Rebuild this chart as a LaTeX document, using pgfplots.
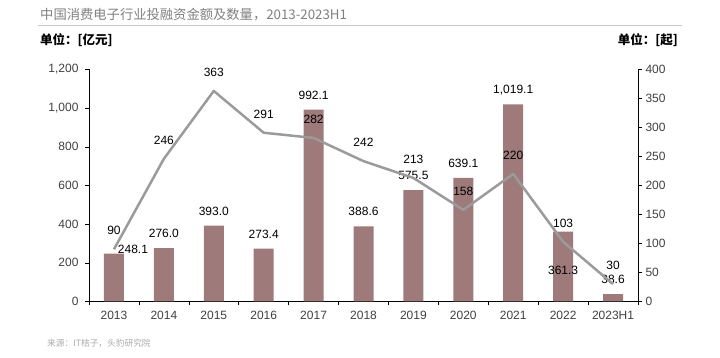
\documentclass[border=0pt]{standalone}
\usepackage{pgfplots}
\pgfplotsset{compat=1.18}
\usepackage{pgfplotstable}
\usepackage{fontspec}
\setmainfont{Liberation Sans}
\newfontfamily\cjk{Noto Sans CJK SC}
\definecolor{barc}{RGB}{158,122,122}
\definecolor{linec}{RGB}{155,155,155}
\definecolor{tickc}{RGB}{64,64,64}
\definecolor{titlec}{RGB}{128,128,128}
\definecolor{srcc}{RGB}{170,170,170}
\definecolor{rulec}{RGB}{200,200,200}
\pgfkeys{/pgf/number format/assume math mode=true}

\pgfplotstableread{
x y dx dy
0 248.1 19 4.5
1 276.0 0 14.5
2 393.0 0 14.5
3 273.4 0 14.5
4 992.1 0 14.5
5 388.6 0 14.5
6 575.5 0 14.5
7 639.1 0 14.5
8 1019.1 0 14.5
9 361.3 0 -38.4
10 38.6 0 14.5
}\bardata

\pgfplotstableread{
x y
0 90
1 246
2 363
3 291
4 282
5 242
6 213
7 158
8 220
9 103
10 30
}\linedata

\begin{document}
\begin{tikzpicture}[x=1pt,y=1pt]
\path[use as bounding box] (0,0) rectangle (720,358);
% title
\node[anchor=west, inner sep=0, text=titlec, font=\cjk\fontsize{13.3}{15}\selectfont] at (40,343) {中国消费电子行业投融资金额及数量，2013-2023H1};
\draw[rulec, line width=0.8pt] (38,333) -- (682,333);
\node[anchor=west, inner sep=0, font=\cjk\bfseries\fontsize{12.5}{14}\selectfont] at (40,318) {单位：[亿元]};
\node[anchor=east, inner sep=0, font=\cjk\bfseries\fontsize{12.5}{14}\selectfont] at (678,318) {单位：[起]};
\node[anchor=west, inner sep=0, text=srcc, font=\cjk\fontsize{8.7}{10}\selectfont] at (47,15) {来源：IT桔子，头豹研究院};

\begin{axis}[
  at={(89pt,56.5pt)}, anchor=south west,
  scale only axis, width=549pt, height=232pt,
  xmin=-0.5, xmax=10.5, ymin=0, ymax=1200,
  axis x line*=bottom, axis y line*=left,
  axis line style={black, line width=0.6pt, -},
  xtick={0,...,10},
  xticklabels={2013,2014,2015,2016,2017,2018,2019,2020,2021,2022,2023H1},
  minor xtick={-0.5,0.5,...,10.5},
  major x tick style={draw=none},
  minor tick length=4pt, major tick length=4pt,
  tick align=outside,
  tick style={black, line width=0.6pt},
  ytick={0,200,...,1200},
  yticklabel style={/pgf/number format/.cd,1000 sep={,}, /tikz/.cd, xshift=-3pt},
  xticklabel style={yshift=-2pt},
  ticklabel style={font=\fontsize{12}{13}\selectfont, text=tickc},
  ybar, bar width=20pt,
]
\addplot[fill=barc, draw=none,
  visualization depends on={\thisrow{dx} \as \dx},
  visualization depends on={\thisrow{dy} \as \dy},
  nodes near coords={\pgfmathprintnumber[fixed,fixed zerofill,precision=1,1000 sep={,}]{\pgfplotspointmeta}},
  nodes near coords style={anchor=center, xshift=\dx pt, yshift=\dy pt, text=black, font=\fontsize{12}{13}\selectfont},
] table[x=x,y=y] {\bardata};
\end{axis}

\begin{axis}[
  at={(89pt,56.5pt)}, anchor=south west,
  scale only axis, width=549pt, height=232pt,
  xmin=-0.5, xmax=10.5, ymin=0, ymax=400,
  axis x line=none, axis y line*=right,
  axis line style={black, line width=0.6pt, -},
  ytick={0,50,...,400},
  major tick length=4pt, tick align=outside,
  tick style={black, line width=0.6pt},
  ticklabel style={font=\fontsize{12}{13}\selectfont, text=tickc},
]
\addplot[linec, line width=2.5pt, line join=round, mark=none,
  nodes near coords,
  nodes near coords style={anchor=center, yshift=18.5pt, text=black, font=\fontsize{12}{13}\selectfont},
] table[x=x,y=y] {\linedata};
\end{axis}
\end{tikzpicture}
\end{document}
